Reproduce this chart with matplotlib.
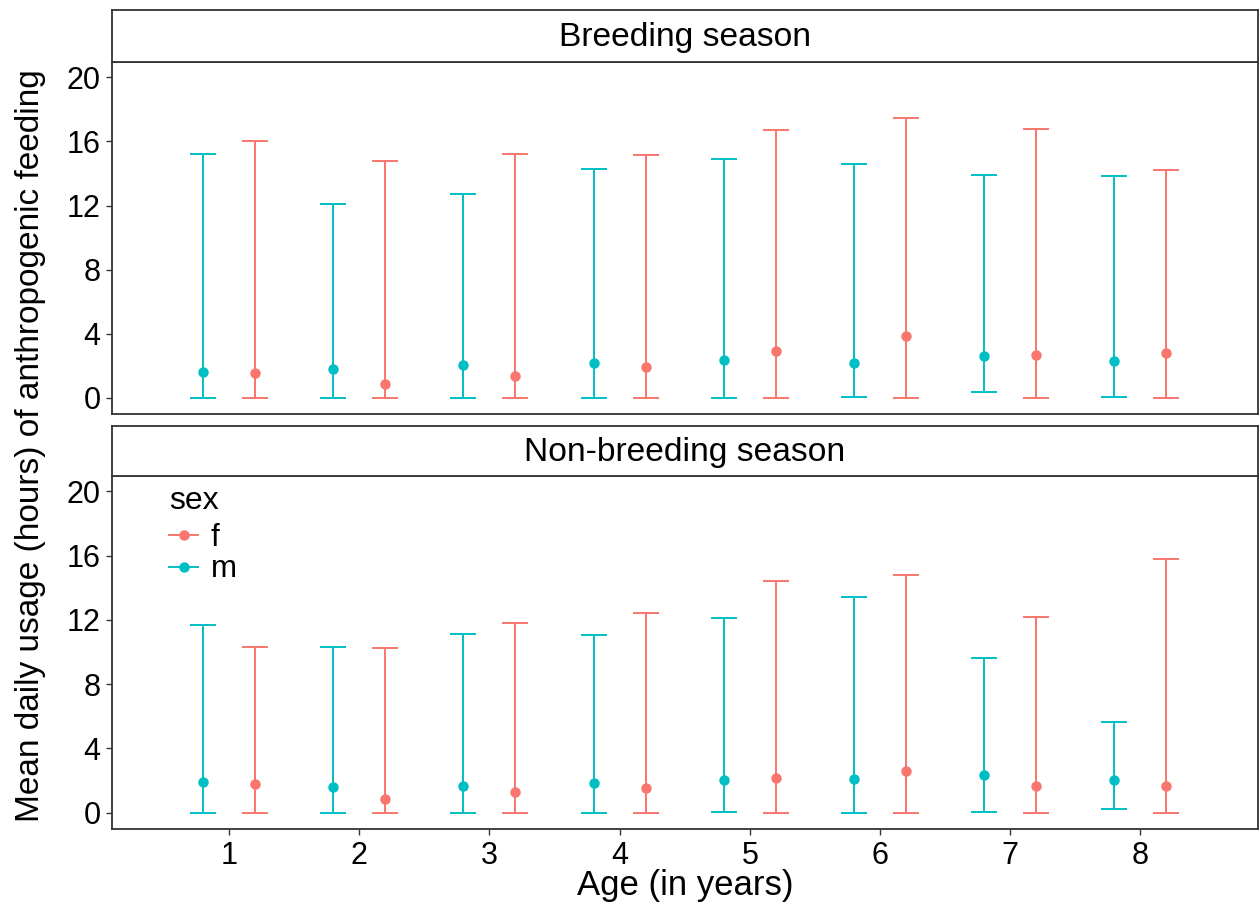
import matplotlib
matplotlib.use("Agg")
import matplotlib.pyplot as plt
from matplotlib.lines import Line2D
import numpy as np

plt.rcParams['font.family'] = ['Liberation Sans', 'DejaVu Sans']

ages = [1, 2, 3, 4, 5, 6, 7, 8]
seasons = ["Breeding season", "Non-breeding season"]

# Breeding season
breed_m_mean = [1.62, 1.79, 2.04, 2.20, 2.37, 2.20, 2.62, 2.29]
breed_m_low  = [0.0, 0.0, 0.0, 0.0, 0.0, 0.06, 0.40, 0.06]
breed_m_high = [15.24, 12.12, 12.70, 14.28, 14.93, 14.59, 13.93, 13.85]
breed_f_mean = [1.54, 0.89, 1.37, 1.95, 2.95, 3.85, 2.70, 2.79]
breed_f_low  = [0.0, 0.0, 0.0, 0.0, 0.0, 0.0, 0.0, 0.0]
breed_f_high = [16.0, 14.76, 15.24, 15.16, 16.72, 17.46, 16.80, 14.20]

# Non-breeding season
non_m_mean = [1.93, 1.60, 1.68, 1.85, 2.02, 2.10, 2.35, 2.02]
non_m_low  = [0.0, 0.0, 0.0, 0.0, 0.06, 0.0, 0.06, 0.23]
non_m_high = [11.70, 10.31, 11.14, 11.06, 12.12, 13.43, 9.65, 5.63]
non_f_mean = [1.77, 0.85, 1.27, 1.52, 2.18, 2.60, 1.68, 1.68]
non_f_low  = [0.0, 0.0, 0.0, 0.0, 0.0, 0.0, 0.0, 0.0]
non_f_high = [10.31, 10.23, 11.79, 12.45, 14.43, 14.82, 12.20, 15.76]

col_f = "#F8766D"
col_m = "#00BFC4"
dodge = 0.2

W, H = 1260, 906
fig = plt.figure(figsize=(W / 100, H / 100), dpi=100)

def fx(px):
    return px / W

def fy(py):
    return 1 - py / H

left = fx(111.7)
right = fx(1258.3)
panels = [
    dict(strip=(10, 61.7), panel=(61.7, 414.0)),
    dict(strip=(425.7, 475.7), panel=(475.7, 828.7)),
]

data = [
    (breed_m_mean, breed_m_low, breed_m_high, breed_f_mean, breed_f_low, breed_f_high),
    (non_m_mean, non_m_low, non_m_high, non_f_mean, non_f_low, non_f_high),
]

edge = "#333333"
tick_fs = 22
axes = []
for i, (p, d, title) in enumerate(zip(panels, data, seasons)):
    st0, st1 = p["strip"]
    p0, p1 = p["panel"]
    ax = fig.add_axes([left, fy(p1), right - left, fy(p0) - fy(p1)])
    sax = fig.add_axes([left, fy(st1), right - left, fy(st0) - fy(st1)])
    sax.set_xticks([])
    sax.set_yticks([])
    for s in sax.spines.values():
        s.set_color(edge)
        s.set_linewidth(1.3)
    sax.text(0.5, 0.47, title, ha="center", va="center", fontsize=24.2,
             transform=sax.transAxes, color="black")

    m_mean, m_low, m_high, f_mean, f_low, f_high = d
    x = np.array(ages, dtype=float)
    for xs, mean, low, high, col in [
        (x - dodge, m_mean, m_low, m_high, col_m),
        (x + dodge, f_mean, f_low, f_high, col_f),
    ]:
        mean = np.array(mean); low = np.array(low); high = np.array(high)
        ax.errorbar(xs, mean, yerr=[mean - low, high - mean], fmt="o",
                    color=col, ecolor=col, elinewidth=1.4, capsize=9.4,
                    capthick=1.4, markersize=6.5, zorder=3)

    ax.set_xlim(0.1, 8.905)
    ax.set_ylim(-1.0, 20.97)
    ax.set_yticks([0, 4, 8, 12, 16, 20])
    ax.tick_params(axis="y", labelsize=tick_fs, length=4, width=1.0,
                   color=edge, pad=4, labelcolor="black")
    for s in ax.spines.values():
        s.set_color(edge)
        s.set_linewidth(1.3)
    if i == 0:
        ax.set_xticks([])
    else:
        ax.set_xticks(ages)
        ax.tick_params(axis="x", labelsize=tick_fs, length=4, width=1.0,
                       color=edge, pad=5, labelcolor="black")
    axes.append(ax)

# Legend in bottom panel
handles = [
    Line2D([0], [0], color=col_f, marker="o", markersize=6.5, lw=1.4),
    Line2D([0], [0], color=col_m, marker="o", markersize=6.5, lw=1.4),
]
leg = axes[1].legend(handles, ["f", "m"], title="sex", loc="upper left",
                     bbox_to_anchor=(0.034, 1.024), frameon=False,
                     fontsize=22.5, title_fontsize=23, handlelength=0.92,
                     handletextpad=0.4, labelspacing=0.05, borderaxespad=0.2)
leg._legend_box.align = "left"
leg._legend_box.sep = 5

fig.text(fx(685), fy(885), "Age (in years)", ha="center", va="center",
         fontsize=25)
fig.text(fx(31), fy(446), "Mean daily usage (hours) of anthropogenic feeding",
         ha="center", va="center", rotation=90, fontsize=24)

fig.savefig("out.png", dpi=100)
